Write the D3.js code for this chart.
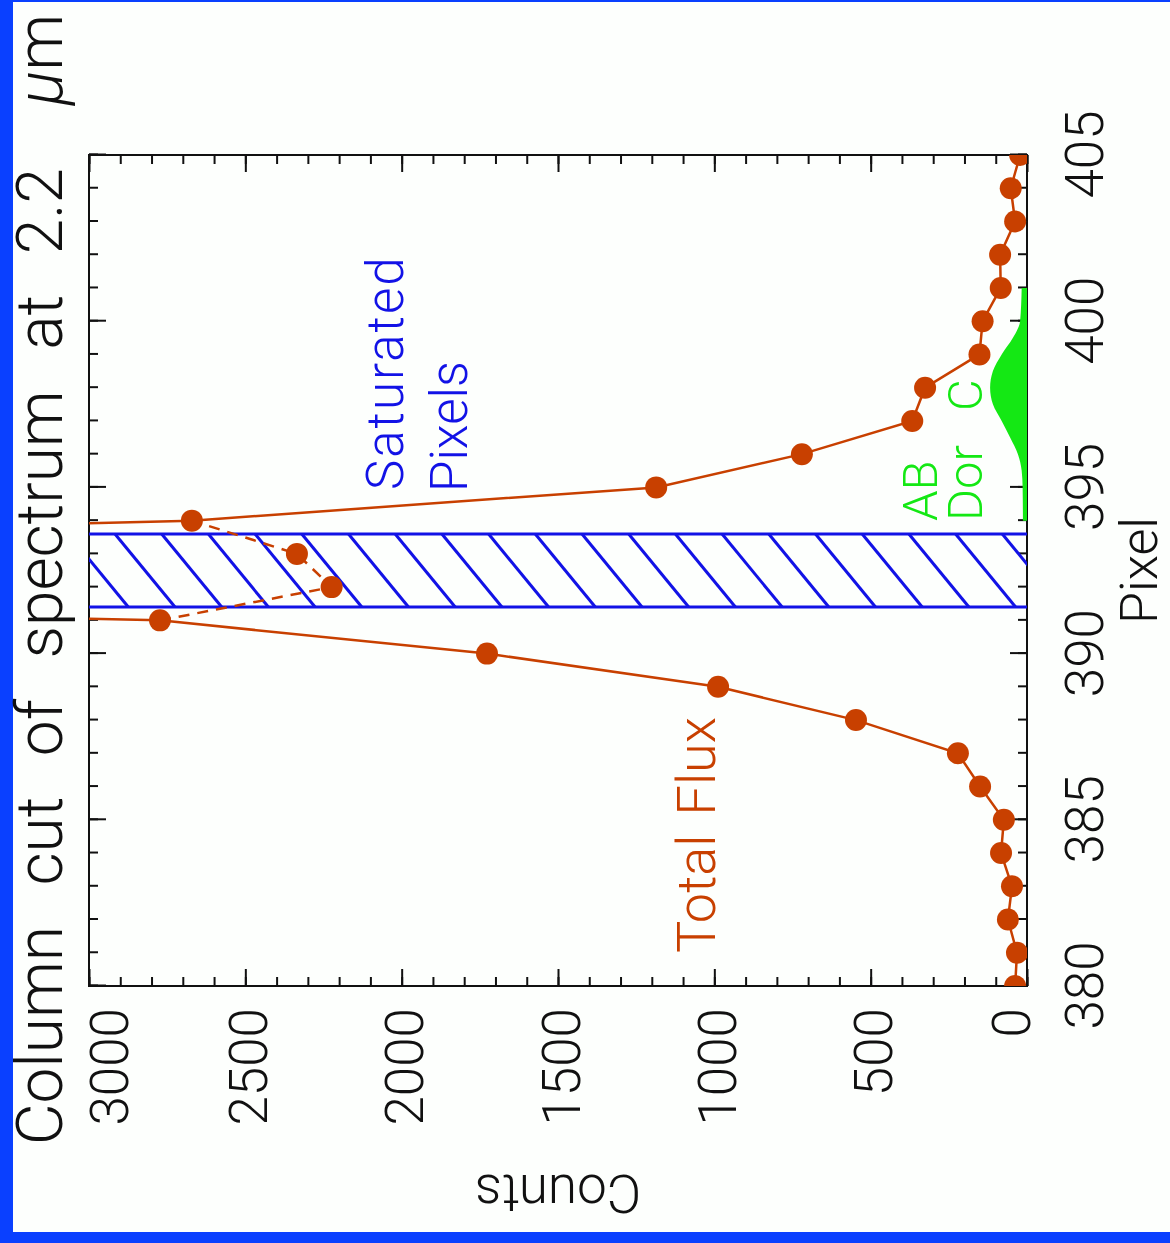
<!DOCTYPE html>
<html>
<head>
<meta charset="utf-8">
<script src="https://cdn.jsdelivr.net/npm/d3@7"></script>
<style>
  html, body { margin: 0; padding: 0; background: #ffffff; }
  svg { display: block; }
  text { font-family: "Roboto", "Liberation Sans", sans-serif; font-weight: 300; }
</style>
</head>
<body>
<svg id="chart" width="1170" height="1243"></svg>
<script>
// Column cut across the spectrum at 2.2 micron
const pixels     = [380, 381, 382, 383, 384, 385, 386, 387, 388, 389, 390, 391, 392,
                    393, 394, 395, 396, 397, 398, 399, 400, 401, 402, 403, 404, 405];
const totalFlux  = [38, 32, 61, 48, 83, 74, 150, 221, 547, 988, 1727, 2773, 7250,
                    6830, 2671, 1186, 720, 367, 326, 152, 142, 84, 86, 38, 52, 22];

// measured (saturated) values across the core
const satPixels  = [391, 392, 393, 394];
const satCounts  = [2773, 2224, 2335, 2671];

// companion profile (AB Dor C)
const abDorPixels = [394, 395, 395.5, 396, 396.5, 397, 397.5, 398, 398.5, 399, 399.5, 400, 401];
const abDorCounts = [13, 14, 17, 29, 54, 81, 109, 118, 109, 81, 45, 22, 17];

// saturated pixel range
const satBand = [391.4, 393.6];

const pixelTicks = [380, 385, 390, 395, 400, 405];
const pixelMinor = [380, 381, 382, 383, 384, 385, 386, 387, 388, 389, 390, 391, 392,
                    393, 394, 395, 396, 397, 398, 399, 400, 401, 402, 403, 404, 405];
const countTicks = [0, 500, 1000, 1500, 2000, 2500, 3000];
const countMinor = [0, 100, 200, 300, 400, 500, 600, 700, 800, 900, 1000, 1100, 1200, 1300,
                    1400, 1500, 1600, 1700, 1800, 1900, 2000, 2100, 2200, 2300, 2400, 2500,
                    2600, 2700, 2800, 2900, 3000];

const titleText  = "Column cut of spectrum at 2.2";
const xLabel     = "Pixel";
const yLabel     = "Counts";

const W = 1170, H = 1243;
const ORANGE = "#c84000", BLUE = "#1212e6", GREEN = "#14e814", FRAME_BLUE = "#0a40ff";

const svg = d3.select("#chart");

// page frame
svg.append("rect").attr("width", W).attr("height", H).attr("fill", FRAME_BLUE);
svg.append("rect").attr("x", 13).attr("y", 2).attr("width", W - 13).attr("height", H - 13)
   .attr("fill", "#fdfffd");

// the plot is laid out in landscape and turned a quarter turn
const g = svg.append("g").attr("transform", `translate(0,${H}) rotate(-90)`);

const plot = { left: 257, right: 1088, top: 89, bottom: 1027 };
const x = d3.scaleLinear().domain([380, 405]).range([plot.left, plot.right]);
const y = d3.scaleLinear().domain([0, 3000]).range([plot.bottom, plot.top]);

g.append("defs").append("clipPath").attr("id", "plotClip")
  .append("rect").attr("x", plot.left).attr("y", plot.top)
  .attr("width", plot.right - plot.left).attr("height", plot.bottom - plot.top);

function styleAxis(sel) {
  sel.select(".domain").remove();
  sel.selectAll(".tick line").attr("stroke", "#111").attr("stroke-width", 2);
  sel.selectAll("text").attr("fill", "#111").attr("font-size", 53)
     .attr("font-family", "Roboto, 'Liberation Sans', sans-serif").attr("font-weight", 300);
}

// pixel axis (labelled) and its mirror
g.append("g").attr("transform", `translate(0,${plot.bottom})`)
  .call(d3.axisBottom(x).tickValues(pixelMinor).tickSize(-9).tickFormat(""))
  .call(styleAxis);
g.append("g").attr("transform", `translate(0,${plot.bottom})`)
  .call(d3.axisBottom(x).tickValues(pixelTicks).tickSize(-17).tickPadding(38).tickFormat(d3.format("d")))
  .call(styleAxis);
g.append("g").attr("transform", `translate(0,${plot.top})`)
  .call(d3.axisTop(x).tickValues(pixelMinor).tickSize(-9).tickFormat(""))
  .call(styleAxis);
g.append("g").attr("transform", `translate(0,${plot.top})`)
  .call(d3.axisTop(x).tickValues(pixelTicks).tickSize(-17).tickFormat(""))
  .call(styleAxis);

// counts axis (labelled) and its mirror
g.append("g").attr("transform", `translate(${plot.left},0)`)
  .call(d3.axisLeft(y).tickValues(countMinor).tickSize(-9).tickFormat(""))
  .call(styleAxis);
const yAxis = g.append("g").attr("transform", `translate(${plot.left},0)`)
  .call(d3.axisLeft(y).tickValues(countTicks).tickSize(-17).tickPadding(22).tickFormat(d3.format("d")))
  .call(styleAxis);
yAxis.selectAll(".tick text").attr("dy", d => d === 3000 ? "0.72em" : d === 0 ? "0.05em" : "0.4em");
g.append("g").attr("transform", `translate(${plot.right},0)`)
  .call(d3.axisRight(y).tickValues(countMinor).tickSize(-9).tickFormat(""))
  .call(styleAxis);
g.append("g").attr("transform", `translate(${plot.right},0)`)
  .call(d3.axisRight(y).tickValues(countTicks).tickSize(-17).tickFormat(""))
  .call(styleAxis);

// frame
g.append("rect").attr("x", plot.left).attr("y", plot.top)
  .attr("width", plot.right - plot.left).attr("height", plot.bottom - plot.top)
  .attr("fill", "none").attr("stroke", "#111").attr("stroke-width", 2);

// saturated band with hatching
const bandLo = x(satBand[0]), bandHi = x(satBand[1]);
g.append("defs").append("clipPath").attr("id", "bandClip")
  .append("rect").attr("x", bandLo).attr("y", plot.top)
  .attr("width", bandHi - bandLo).attr("height", plot.bottom - plot.top);
const hatchGap = 46.7, hatchRun = 60, hatchPhase = 26;
const hatch = g.append("g").attr("clip-path", "url(#bandClip)");
for (let k = -3; k < 24; k++) {
  const v0 = plot.top + hatchPhase + k * hatchGap;
  hatch.append("line")
    .attr("x1", bandHi).attr("y1", v0)
    .attr("x2", bandLo).attr("y2", v0 + hatchRun)
    .attr("stroke", BLUE).attr("stroke-width", 3);
}
[bandLo, bandHi].forEach(u => {
  g.append("line").attr("x1", u).attr("x2", u).attr("y1", plot.top).attr("y2", plot.bottom)
    .attr("stroke", BLUE).attr("stroke-width", 3);
});

const inner = g.append("g").attr("clip-path", "url(#plotClip)");

// AB Dor C profile
const abArea = d3.area()
  .x((d, i) => x(abDorPixels[i]))
  .y0(y(0))
  .y1(d => y(d))
  .curve(d3.curveMonotoneX);
inner.append("path").datum(abDorCounts).attr("d", abArea).attr("fill", GREEN);

// measured values across the saturated core (dashed)
const satLine = d3.line().x((d, i) => x(satPixels[i])).y(d => y(d));
inner.append("path").datum(satCounts).attr("d", satLine)
  .attr("fill", "none").attr("stroke", ORANGE).attr("stroke-width", 2.5)
  .attr("stroke-dasharray", "11,8");
inner.selectAll("circle.sat").data(satCounts.slice(1, 3)).join("circle")
  .attr("class", "sat")
  .attr("cx", (d, i) => x(satPixels[i + 1])).attr("cy", d => y(d)).attr("r", 11)
  .attr("fill", ORANGE);

// total flux
const fluxLine = d3.line().x((d, i) => x(pixels[i])).y(d => y(d));
inner.append("path").datum(totalFlux).attr("d", fluxLine)
  .attr("fill", "none").attr("stroke", ORANGE).attr("stroke-width", 2.5);
inner.selectAll("circle.flux").data(totalFlux).join("circle")
  .attr("class", "flux")
  .attr("cx", (d, i) => x(pixels[i])).attr("cy", d => y(d)).attr("r", 11)
  .attr("fill", ORANGE);

// annotations
g.append("text").attr("x", 753).attr("y", 403).attr("font-size", 51).attr("fill", BLUE)
  .attr("letter-spacing", 2).text("Saturated");
g.append("text").attr("x", 751).attr("y", 467).attr("font-size", 51).attr("fill", BLUE).text("Pixels");
g.append("text").attr("x", 722).attr("y", 937).attr("font-size", 49).attr("fill", GREEN).text("AB");
g.append("text").attr("x", 722).attr("y", 982).attr("font-size", 49).attr("fill", GREEN)
  .attr("word-spacing", 22).text("Dor C");
g.append("text").attr("x", 290).attr("y", 715).attr("font-size", 54).attr("fill", ORANGE)
  .attr("word-spacing", 6).text("Total Flux");

// axis titles
g.append("text").attr("x", (plot.left + plot.right) / 2).attr("y", 1157)
  .attr("text-anchor", "middle").attr("font-size", 52).attr("fill", "#111").text(xLabel);
g.append("text").attr("transform", `translate(68,${(plot.top + plot.bottom) / 2}) rotate(-90)`)
  .attr("text-anchor", "middle").attr("font-size", 53).attr("fill", "#111").text(yLabel);

// title
const title = g.append("text").attr("x", 98).attr("y", 62).attr("font-size", 64)
  .attr("fill", "#111").attr("word-spacing", 25);
title.append("tspan").text(titleText + " ");
title.append("tspan").attr("font-style", "italic").attr("dx", 22).text("\u03bc");
title.append("tspan").text("m");
</script>
</body>
</html>
